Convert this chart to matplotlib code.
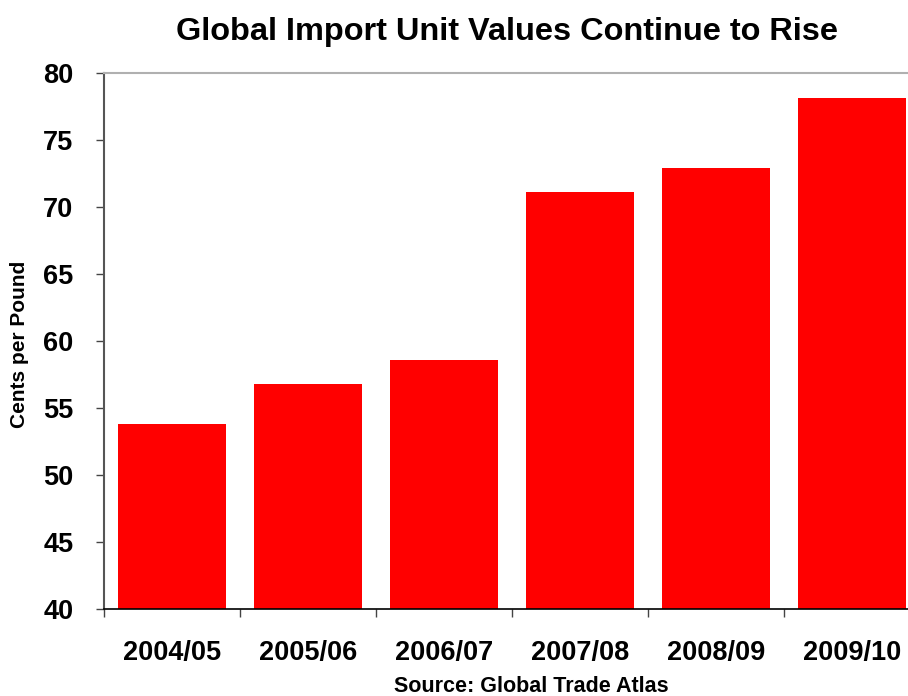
import matplotlib
matplotlib.use("Agg")
import matplotlib.pyplot as plt

# data
seasons = ["2004/05", "2005/06", "2006/07", "2007/08", "2008/09", "2009/10"]
cents_per_pound = [53.8, 56.8, 58.6, 71.1, 72.9, 78.1]
y_ticks = [40, 45, 50, 55, 60, 65, 70, 75, 80]

plt.rcParams['font.family'] = ['Liberation Sans', 'DejaVu Sans']
plt.rcParams['font.weight'] = 'bold'

W, H = 908, 696
fig = plt.figure(figsize=(W / 100, H / 100), dpi=100)
ax = fig.add_axes([104 / W, 1 - 609 / H, (W - 104) / W, (609 - 73) / H])

x = list(range(len(seasons)))
ax.bar(x, cents_per_pound, width=0.79, color='#ff0000', zorder=2)

ax.set_ylim(40, 80)
ax.set_yticks(y_ticks)
ax.set_yticklabels([str(t) for t in y_ticks], fontsize=19.5, fontweight='bold')
ax.set_xlim(-0.5, 5.5 - 12 / 136)

# category labels centred, tick marks at category boundaries
ax.set_xticks(x)
ax.set_xticklabels(seasons, fontsize=19.5, fontweight='bold')
ax.tick_params(axis='x', length=0, pad=22)
ax.set_xticks([i - 0.5 for i in x], minor=True)
ax.tick_params(axis='x', which='minor', length=6, width=1, color='#444444', direction='out')
ax.tick_params(axis='y', length=6, width=1, color='#444444', direction='out', pad=16)

ax.spines['right'].set_visible(False)
ax.spines['top'].set_color('#b0b0b0')
ax.spines['top'].set_linewidth(1.5)
ax.spines['left'].set_color('#555555')
ax.spines['left'].set_linewidth(1.5)
ax.spines['bottom'].set_color('black')
ax.spines['bottom'].set_linewidth(1.2)

fig.text(20 / W, 1 - 344 / H, 'Cents per Pound', rotation=90,
         ha='center', va='center', fontsize=15, fontweight='bold')
fig.text(507 / W, 1 - 32 / H, 'Global Import Unit Values Continue to Rise',
         ha='center', va='center', fontsize=23.4, fontweight='bold')
fig.text(531 / W, 1 - 686 / H, 'Source: Global Trade Atlas',
         ha='center', va='center', fontsize=15.5, fontweight='bold')

fig.savefig('out.png', dpi=100)
